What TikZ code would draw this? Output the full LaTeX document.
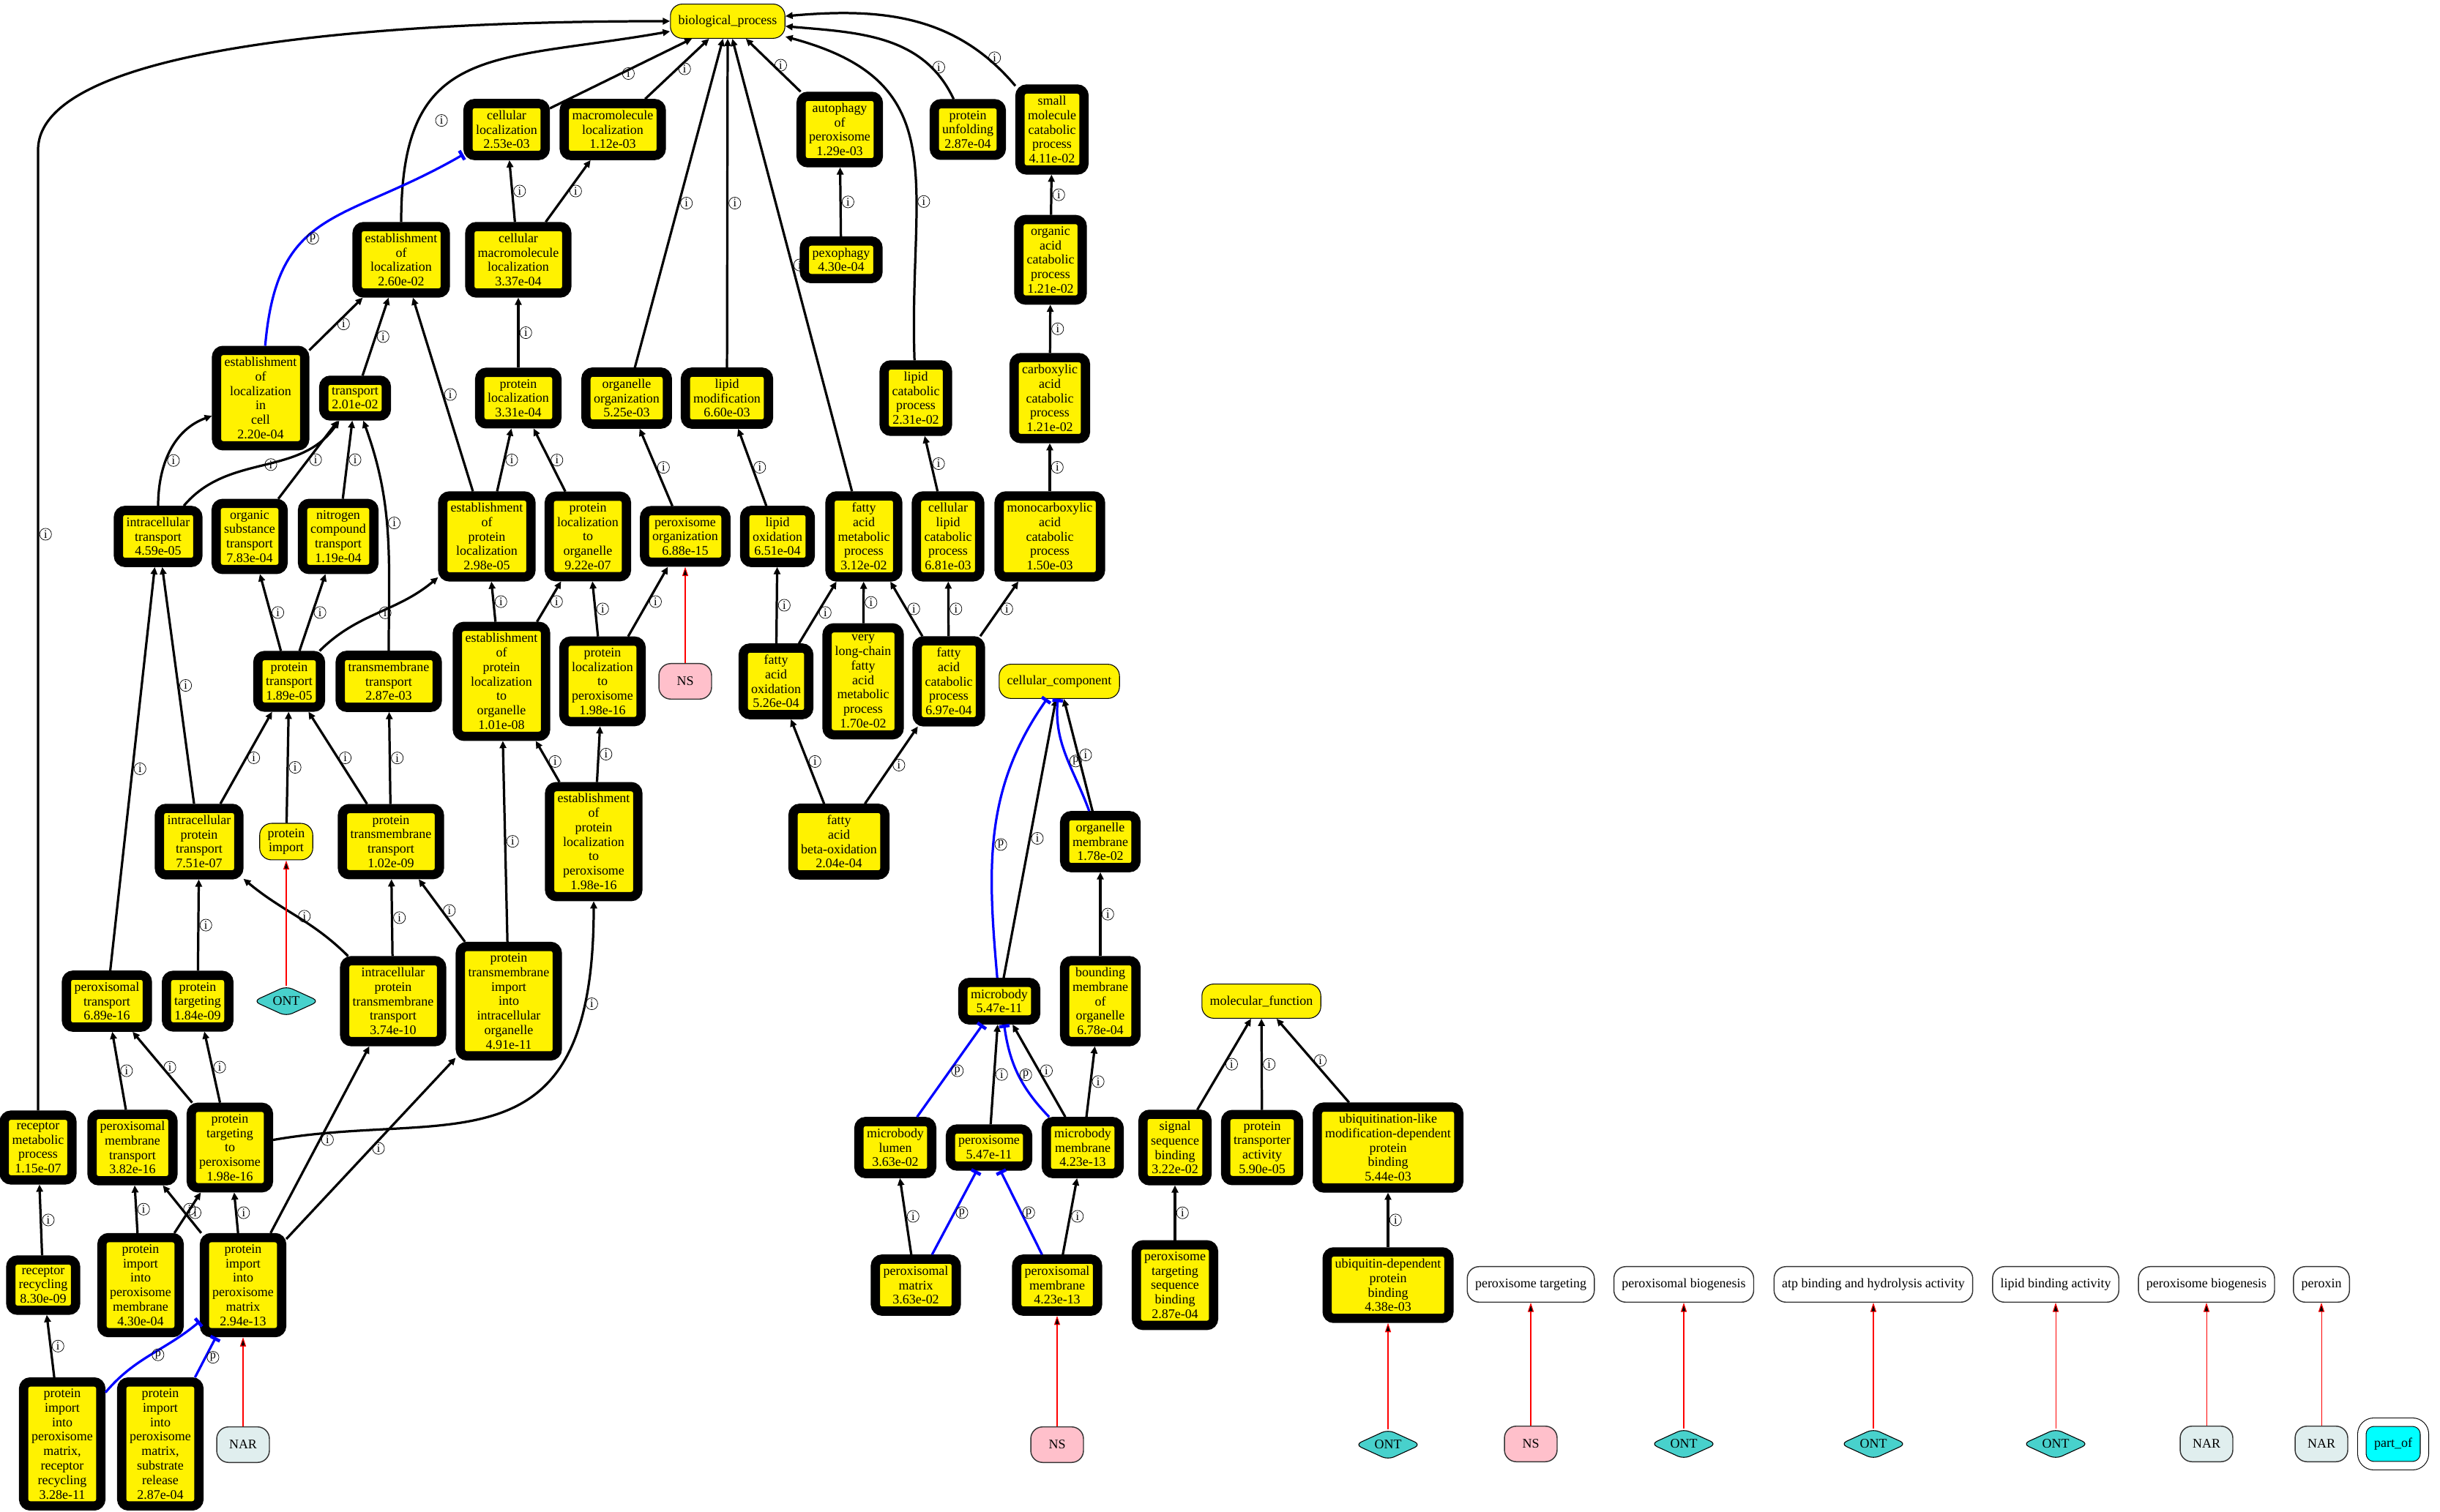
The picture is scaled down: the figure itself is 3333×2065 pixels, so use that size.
\documentclass[tikz,border=0pt]{standalone}
\usepackage{fontspec}
\setmainfont{Liberation Serif}
\usetikzlibrary{arrows.meta,shapes.geometric}
\definecolor{nspink}{HTML}{FFC0CB}
\definecolor{narblue}{HTML}{E0EEEE}
\definecolor{ontcyan}{HTML}{48D1CC}
\definecolor{partcyan}{HTML}{00FFFF}

\begin{document}
\begin{tikzpicture}[x=0.556pt,y=0.556pt,
    term/.style={draw=black,line width=7pt,fill=yellow,rounded corners=5pt,align=center,inner xsep=6pt,inner ysep=5.2pt,font=\fontsize{10}{11}\selectfont},
    weak/.style={draw=black,line width=0.6pt,fill=yellow,rounded corners=9pt,align=center,inner xsep=6pt,inner ysep=4pt,font=\fontsize{10}{11}\selectfont},
    root/.style={draw=black,line width=0.6pt,fill=yellow,rounded corners=9pt,inner xsep=6pt,minimum height=26pt,font=\fontsize{10}{11}\selectfont},
    note/.style={draw=black!80,line width=0.8pt,fill=white,rounded corners=9pt,inner xsep=6pt,minimum height=27pt,font=\fontsize{10}{11}\selectfont},
    ns/.style={note,fill=nspink,minimum width=40pt},
    nar/.style={note,fill=narblue,minimum width=40pt},
    ont/.style={diamond,aspect=2.2,draw=black,line width=0.6pt,fill=ontcyan,rounded corners=5pt,minimum width=50pt,minimum height=23pt,inner sep=0pt,font=\fontsize{10}{11}\selectfont},
    legend/.style={draw=black,line width=0.6pt,double=white,double distance=5.8pt,fill=partcyan,rounded corners=9pt,minimum width=47.5pt,minimum height=33pt,inner sep=0pt,font=\fontsize{10}{11}\selectfont},
    isa/.style={draw=black,line width=1.8pt,-{Triangle[length=5.5pt,width=5pt]}},
    part/.style={draw=blue,line width=1.8pt,-{Bar[width=8pt,line width=2.5pt]}},
    evid/.style={draw=red,line width=0.6pt,-{Triangle[length=7pt,width=4.5pt]}},
    lab/.style={circle,draw=black,text=black,line width=0.4pt,inner sep=0pt,minimum size=9pt,font=\fontsize{9}{9}\selectfont,right=1pt}]
    \useasboundingbox (0,0) rectangle (3333,2065);

    \node[root] (bp) at (994,2036) {biological\_process};
    \node[term] (cloc) at (692,1888) {cellular\\localization\\2.53e-03};
    \node[term] (mloc) at (837,1888) {macromolecule\\localization\\1.12e-03};
    \node[term] (apx) at (1147,1888) {autophagy\\of\\peroxisome\\1.29e-03};
    \node[term] (punf) at (1322,1888) {protein\\unfolding\\2.87e-04};
    \node[term] (smcp) at (1437,1888) {small\\molecule\\catabolic\\process\\4.11e-02};
    \node[term] (eloc) at (548,1710) {establishment\\of\\localization\\2.60e-02};
    \node[term] (cmloc) at (708,1710) {cellular\\macromolecule\\localization\\3.37e-04};
    \node[term] (pexo) at (1149,1710) {pexophagy\\4.30e-04};
    \node[term] (oacp) at (1435,1710) {organic\\acid\\catabolic\\process\\1.21e-02};
    \node[term] (elic) at (356,1521) {establishment\\of\\localization\\in\\cell\\2.20e-04};
    \node[term] (tran) at (485,1521) {transport\\2.01e-02};
    \node[term] (ploc) at (708,1521) {protein\\localization\\3.31e-04};
    \node[term] (oorg) at (856,1521) {organelle\\organization\\5.25e-03};
    \node[term] (lmod) at (993,1521) {lipid\\modification\\6.60e-03};
    \node[term] (lcat) at (1251,1521) {lipid\\catabolic\\process\\2.31e-02};
    \node[term] (cacp) at (1434,1521) {carboxylic\\acid\\catabolic\\process\\1.21e-02};
    \node[term] (itr) at (216,1332) {intracellular\\transport\\4.59e-05};
    \node[term] (ost) at (341,1332) {organic\\substance\\transport\\7.83e-04};
    \node[term] (nct) at (462,1332) {nitrogen\\compound\\transport\\1.19e-04};
    \node[term] (epl) at (665,1332) {establishment\\of\\protein\\localization\\2.98e-05};
    \node[term] (plo) at (803,1332) {protein\\localization\\to\\organelle\\9.22e-07};
    \node[term] (porg) at (936,1332) {peroxisome\\organization\\6.88e-15};
    \node[term] (lox) at (1062,1332) {lipid\\oxidation\\6.51e-04};
    \node[term] (famp) at (1180,1332) {fatty\\acid\\metabolic\\process\\3.12e-02};
    \node[term] (clcp) at (1295,1332) {cellular\\lipid\\catabolic\\process\\6.81e-03};
    \node[term] (mcacp) at (1434,1332) {monocarboxylic\\acid\\catabolic\\process\\1.50e-03};
    \node[term] (ptr) at (395,1134) {protein\\transport\\1.89e-05};
    \node[term] (tmt) at (531,1134) {transmembrane\\transport\\2.87e-03};
    \node[term] (eplo) at (685,1134) {establishment\\of\\protein\\localization\\to\\organelle\\1.01e-08};
    \node[term] (plp) at (823,1134) {protein\\localization\\to\\peroxisome\\1.98e-16};
    \node[ns] (ns1) at (936,1134) {NS};
    \node[term] (fao) at (1060,1134) {fatty\\acid\\oxidation\\5.26e-04};
    \node[term] (vlc) at (1179,1134) {very\\long-chain\\fatty\\acid\\metabolic\\process\\1.70e-02};
    \node[term] (facp) at (1296,1134) {fatty\\acid\\catabolic\\process\\6.97e-04};
    \node[root] (cc) at (1447,1134) {cellular\_component};
    \node[term] (iptr) at (272,915) {intracellular\\protein\\transport\\7.51e-07};
    \node[weak] (pimp) at (391,915) {protein\\import};
    \node[term] (ptmt) at (534,915) {protein\\transmembrane\\transport\\1.02e-09};
    \node[term] (eplp) at (811,915) {establishment\\of\\protein\\localization\\to\\peroxisome\\1.98e-16};
    \node[term] (fabo) at (1146,915) {fatty\\acid\\beta-oxidation\\2.04e-04};
    \node[term] (omem) at (1503,915) {organelle\\membrane\\1.78e-02};
    \node[term] (pxtr) at (146,697) {peroxisomal\\transport\\6.89e-16};
    \node[term] (ptg) at (270,697) {protein\\targeting\\1.84e-09};
    \node[ont] (ont1) at (391,697) {ONT};
    \node[term] (iptmt) at (537,697) {intracellular\\protein\\transmembrane\\transport\\3.74e-10};
    \node[term] (ptmi) at (695,697) {protein\\transmembrane\\import\\into\\intracellular\\organelle\\4.91e-11};
    \node[term] (mb) at (1365,697) {microbody\\5.47e-11};
    \node[term] (bmo) at (1503,697) {bounding\\membrane\\of\\organelle\\6.78e-04};
    \node[root] (mf) at (1723,697) {molecular\_function};
    \node[term] (rmp) at (52,497) {receptor\\metabolic\\process\\1.15e-07};
    \node[term] (pmt) at (181,497) {peroxisomal\\membrane\\transport\\3.82e-16};
    \node[term] (ptp) at (314,497) {protein\\targeting\\to\\peroxisome\\1.98e-16};
    \node[term] (mbl) at (1223,497) {microbody\\lumen\\3.63e-02};
    \node[term] (pxs) at (1351,497) {peroxisome\\5.47e-11};
    \node[term] (mbm) at (1479,497) {microbody\\membrane\\4.23e-13};
    \node[term] (ssb) at (1605,497) {signal\\sequence\\binding\\3.22e-02};
    \node[term] (pta) at (1724,497) {protein\\transporter\\activity\\5.90e-05};
    \node[term] (ubl) at (1896,497) {ubiquitination-like\\modification-dependent\\protein\\binding\\5.44e-03};
    \node[term] (rrec) at (59,309) {receptor\\recycling\\8.30e-09};
    \node[term] (pipmem) at (192,309) {protein\\import\\into\\peroxisome\\membrane\\4.30e-04};
    \node[term] (pipm) at (332,309) {protein\\import\\into\\peroxisome\\matrix\\2.94e-13};
    \node[term] (pxm) at (1251,309) {peroxisomal\\matrix\\3.63e-02};
    \node[term] (pxmem) at (1444,309) {peroxisomal\\membrane\\4.23e-13};
    \node[term] (ptsb) at (1605,309) {peroxisome\\targeting\\sequence\\binding\\2.87e-04};
    \node[term] (ubd) at (1896,309) {ubiquitin-dependent\\protein\\binding\\4.38e-03};
    \node[note] (pt) at (2091,310) {peroxisome targeting};
    \node[note] (pb1) at (2300,310) {peroxisomal biogenesis};
    \node[note] (atp) at (2559,310) {atp binding and hydrolysis activity};
    \node[note] (lba) at (2808,310) {lipid binding activity};
    \node[note] (pb2) at (3014,310) {peroxisome biogenesis};
    \node[note] (pxn) at (3171,310) {peroxin};
    \node[term] (pipmrr) at (85,92) {protein\\import\\into\\peroxisome\\matrix,\\receptor\\recycling\\3.28e-11};
    \node[term] (pipmsr) at (219,92) {protein\\import\\into\\peroxisome\\matrix,\\substrate\\release\\2.87e-04};
    \node[nar] (nar1) at (332,91) {NAR};
    \node[ns] (ns2) at (1444,91) {NS};
    \node[ont] (ont2) at (1896,91) {ONT};
    \node[ns] (ns3) at (2091,92) {NS};
    \node[ont] (ont3) at (2300,92) {ONT};
    \node[ont] (ont4) at (2559,92) {ONT};
    \node[ont] (ont5) at (2808,92) {ONT};
    \node[nar] (nar2) at (3014,92) {NAR};
    \node[nar] (nar3) at (3171,92) {NAR};
    \node[legend] (partof) at (3269,92) {part\_of};
    \coordinate (rmpup) at (52,1860);

    \draw[isa] (rmp) -- node[lab,pos=0.6] {i} (rmpup) to[out=90,in=180,looseness=0.5] (bp);

    \path[isa]
        (cloc) edge node[lab] {i} (bp)
        (mloc) edge node[lab] {i} (bp)
        (eloc) edge[out=90,in=190,looseness=1.4] node[lab,pos=0.25,right=12pt] {i} (bp)
        (oorg) edge node[lab] {i} (bp)
        (lmod) edge node[lab] {i} (bp)
        (apx) edge node[lab] {i} (bp)
        (famp) edge node[lab] {i} (bp)
        (lcat) edge[out=92,in=-15,looseness=1.3] node[lab,pos=0.35] {i} (bp)
        (punf) edge[out=115,in=-5] node[lab,pos=0.2] {i} (bp)
        (smcp) edge[out=130,in=5] node[lab,pos=0.15] {i} (bp)
        (pexo) edge node[lab] {i} (apx)
        (oacp) edge node[lab] {i} (smcp)
        (cacp) edge node[lab] {i} (oacp)
        (mcacp) edge node[lab] {i} (cacp)
        (cmloc) edge node[lab] {i} (cloc)
        (cmloc) edge node[lab] {i} (mloc)
        (ploc) edge node[lab] {i} (cmloc)
        (elic) edge node[lab] {i} (eloc)
        (tran) edge node[lab] {i} (eloc)
        (epl) edge node[lab] {i} (eloc)
        (itr) edge[out=90,in=200] node[lab,pos=0.4] {i} (elic)
        (itr) edge[out=50,in=235] node[lab] {i} (tran)
        (ost) edge node[lab] {i} (tran)
        (nct) edge node[lab] {i} (tran)
        (tmt) edge[out=90,in=-70] node[lab,pos=0.55] {i} (tran)
        (epl) edge node[lab] {i} (ploc)
        (plo) edge node[lab] {i} (ploc)
        (porg) edge node[lab] {i} (oorg)
        (lox) edge node[lab] {i} (lmod)
        (clcp) edge node[lab] {i} (lcat)

        (ptr) edge node[lab] {i} (ost)
        (ptr) edge node[lab] {i} (nct)
        (ptr) edge[out=45,in=220] node[lab] {i} (epl)
        (eplo) edge node[lab] {i} (epl)
        (eplo) edge node[lab] {i} (plo)
        (plp) edge node[lab] {i} (plo)
        (plp) edge node[lab] {i} (porg)
        (fao) edge node[lab] {i} (lox)
        (fao) edge node[lab] {i} (famp)
        (vlc) edge node[lab] {i} (famp)
        (facp) edge node[lab] {i} (famp)
        (facp) edge node[lab] {i} (clcp)
        (facp) edge node[lab] {i} (mcacp)

        (iptr) edge node[lab] {i} (itr)
        (pxtr) edge node[lab] {i} (itr)
        (iptr) edge node[lab] {i} (ptr)
        (pimp) edge node[lab] {i} (ptr)
        (ptmt) edge node[lab] {i} (ptr)
        (ptmt) edge node[lab] {i} (tmt)
        (eplp) edge node[lab] {i} (eplo)
        (eplp) edge node[lab] {i} (plp)
        (ptmi) edge node[lab] {i} (eplo)
        (fabo) edge node[lab] {i} (fao)
        (fabo) edge node[lab] {i} (facp)
        (omem) edge node[lab] {i} (cc)
        (mb) edge node[lab] {i} (cc)

        (ptg) edge node[lab] {i} (iptr)
        (iptmt) edge[out=135,in=-40] node[lab] {i} (iptr)
        (iptmt) edge node[lab] {i} (ptmt)
        (ptmi) edge node[lab] {i} (ptmt)
        (bmo) edge node[lab] {i} (omem)

        (pmt) edge node[lab] {i} (pxtr)
        (ptp) edge node[lab] {i} (pxtr)
        (ptp) edge node[lab] {i} (ptg)
        (ptp) edge[out=10,in=-90,out distance=135pt,in distance=210pt] node[lab,pos=0.85] {i} (eplp)
        (pipm) edge node[lab] {i} (iptmt)
        (pipm) edge node[lab] {i} (ptmi)
        (pxs) edge node[lab] {i} (mb)
        (mbm) edge node[lab] {i} (mb)
        (mbm) edge node[lab] {i} (bmo)
        (ssb) edge node[lab] {i} (mf)
        (pta) edge node[lab] {i} (mf)
        (ubl) edge node[lab] {i} (mf)

        (rrec) edge node[lab] {i} (rmp)
        (pipmem) edge node[lab] {i} (pmt)
        (pipm) edge node[lab] {i} (pmt)
        (pipmem) edge node[lab] {i} (ptp)
        (pipm) edge node[lab] {i} (ptp)
        (pxm) edge node[lab] {i} (mbl)
        (pxmem) edge node[lab] {i} (mbm)
        (ptsb) edge node[lab] {i} (ssb)
        (ubd) edge node[lab] {i} (ubl)
        (pipmrr) edge node[lab] {i} (rrec)
    ;

    \path[part]
        (elic) edge[out=85,in=210,looseness=1.3] node[lab,pos=0.4] {p} (cloc)
        (omem) edge[out=110,in=-95] node[lab,pos=0.45] {p} (cc)
        (mb) edge[out=95,in=235] node[lab,pos=0.45] {p} (cc)
        (mbl) edge node[lab] {p} (mb)
        (mbm) edge[bend left=18] node[lab] {p} (mb)
        (pxm) edge node[lab] {p} (pxs)
        (pxmem) edge node[lab] {p} (pxs)
        (pipmrr) edge[out=50,in=220] node[lab] {p} (pipm)
        (pipmsr) edge node[lab] {p} (pipm)
    ;

    \path[evid]
        (ns1) edge (porg)
        (ont1) edge (pimp)
        (nar1) edge (pipm)
        (ns2) edge (pxmem)
        (ont2) edge (ubd)
        (ns3) edge (pt)
        (ont3) edge (pb1)
        (ont4) edge (atp)
        (ont5) edge (lba)
        (nar2) edge (pb2)
        (nar3) edge (pxn)
    ;

\end{tikzpicture}
\end{document}
